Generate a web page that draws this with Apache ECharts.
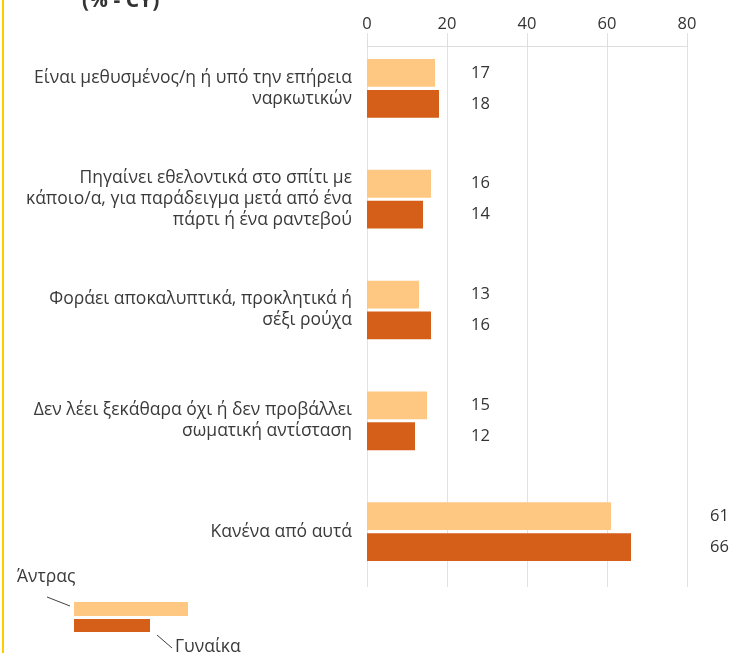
<!DOCTYPE html>
<html>
<head>
<meta charset="utf-8">
<script src="https://cdn.jsdelivr.net/npm/echarts@6/dist/echarts.min.js"></script>
<style>
  html, body { margin: 0; padding: 0; background: #fff; }
  #chart { width: 742px; height: 653px; }
</style>
</head>
<body>
<div id="chart"></div>
<script>
// κατηγορίες (πάνω προς κάτω)
var categories = [
  'Είναι μεθυσμένος/η ή υπό την επήρεια\nναρκωτικών',
  'Πηγαίνει εθελοντικά στο σπίτι με\nκάποιο/α, για παράδειγμα μετά από ένα\nπάρτι ή ένα ραντεβού',
  'Φοράει αποκαλυπτικά, προκλητικά ή\nσέξι ρούχα',
  'Δεν λέει ξεκάθαρα όχι ή δεν προβάλλει\nσωματική αντίσταση',
  'Κανένα από αυτά'
];
var men = [17, 16, 13, 15, 61];
var women = [18, 14, 16, 12, 66];
var xTicks = [0, 20, 40, 60, 80];
var seriesNames = ['Άντρας', 'Γυναίκα'];

var FONT = 'Open Sans';
var chart = echarts.init(document.getElementById('chart'));

// θέση ετικέτας τιμής: στήλη δεξιά από τις μπάρες
function valueLabel(v) {
  return {
    show: true,
    position: [v < 50 ? 104 : 343, '50%'],
    verticalAlign: 'middle',
    align: 'left',
    color: '#333',
    fontSize: 16.5,
    fontFamily: FONT
  };
}

var option = {
  animation: false,
  title: {
    text: '(% - CY)',
    left: 77,
    top: -14,
    textStyle: { fontSize: 21, fontWeight: 'bold', color: '#333', fontFamily: FONT }
  },
  grid: { left: 367, right: 55, top: 33, bottom: 66 },
  xAxis: {
    type: 'value',
    position: 'top',
    offset: -13,
    min: 0,
    max: 80,
    interval: 20,
    axisLine: { show: true, lineStyle: { color: '#ddd' } },
    axisTick: { show: true, length: 6, lineStyle: { color: '#ddd' } },
    axisLabel: {
      margin: 13,
      color: '#333',
      fontSize: 16.5,
      fontFamily: FONT,
      formatter: function (v) { return xTicks.indexOf(v) >= 0 ? v : ''; }
    },
    splitLine: { show: true, lineStyle: { color: '#e2e2e2' } }
  },
  yAxis: {
    type: 'category',
    inverse: true,
    data: categories,
    axisLine: { show: false },
    axisTick: { show: false },
    axisLabel: {
      margin: 15,
      color: '#3a3a3a',
      fontSize: 17.5,
      lineHeight: 21,
      fontFamily: FONT,
      align: 'right'
    }
  },
  series: [
    {
      name: seriesNames[0],
      type: 'bar',
      data: men.map(function (v) { return { value: v, label: valueLabel(v) }; }),
      itemStyle: { color: '#FFC882' },
      barGap: '11%',
      barCategoryGap: '47%'
    },
    {
      name: seriesNames[1],
      type: 'bar',
      data: women.map(function (v) { return { value: v, label: valueLabel(v) }; }),
      itemStyle: { color: '#D55E18' }
    }
  ],
  graphic: [
    // κίτρινη γραμμή αριστερά
    { type: 'rect', shape: { x: 2, y: 0, width: 2, height: 653 }, style: { fill: '#FFCC00' }, silent: true },
    // υπόμνημα
    { type: 'text', left: 17, top: 568, style: { text: seriesNames[0], fontSize: 17.5, fill: '#3a3a3a', fontFamily: FONT } },
    { type: 'line', shape: { x1: 47, y1: 597, x2: 70, y2: 606 }, style: { stroke: '#404040', lineWidth: 1 } },
    { type: 'rect', shape: { x: 74, y: 602, width: 114, height: 14 }, style: { fill: '#FFC882' } },
    { type: 'rect', shape: { x: 74, y: 619, width: 76, height: 13 }, style: { fill: '#D55E18' } },
    { type: 'line', shape: { x1: 157, y1: 635, x2: 172, y2: 648 }, style: { stroke: '#404040', lineWidth: 1 } },
    { type: 'text', left: 175, top: 638, style: { text: seriesNames[1], fontSize: 17.5, fill: '#3a3a3a', fontFamily: FONT } }
  ]
};

chart.setOption(option);
</script>
</body>
</html>
